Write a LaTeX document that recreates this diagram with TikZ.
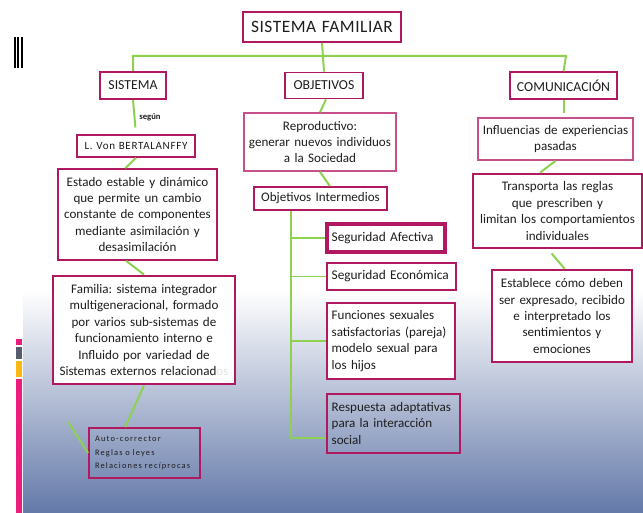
\documentclass[tikz,border=0pt]{standalone}
\usepackage{fontspec}
\setmainfont{Carlito}
\usepackage{xcolor}
\usepackage{tikz}

\definecolor{borde}{HTML}{B01860}
\definecolor{bordeclaro}{HTML}{C8508A}
\definecolor{verde}{HTML}{8CD250}
\definecolor{fondo}{HTML}{6479A9}
\definecolor{rosa}{HTML}{EC1C7C}
\definecolor{gris}{HTML}{545E6E}
\definecolor{naranja}{HTML}{FDB913}
\definecolor{tinta}{HTML}{1E1E1E}

\newcommand{\cuerpo}{\fontsize{9.8}{12.3}\selectfont}
\newcommand{\rotulo}{\fontsize{10.3}{12}\selectfont}
\frenchspacing

\begin{document}
\begin{tikzpicture}[x=0.75pt,y=-0.75pt,
    caja/.style={draw=borde, fill=white, line width=1.3pt, inner sep=3pt,
                 align=center, text=tinta, font=\cuerpo},
    izq/.style={caja, align=left, inner xsep=3.5pt},
    enlace/.style={draw=verde, line width=1.5pt}]
        \useasboundingbox (0,0) rectangle (643,513);
        \shade[top color=white, bottom color=fondo] (23,290) rectangle (643,513);

        \fill[black] (14,37) rectangle (15.5,68);
        \fill[black] (17.2,37) rectangle (19,68);
        \fill[black] (20.5,37) rectangle (22.5,68);
        \fill[rosa] (16,339) rectangle (22,345.5);
        \fill[gris] (16,346.7) rectangle (22,359);
        \fill[naranja] (16,360.7) rectangle (22,377.3);
        \fill[rosa] (16,379) rectangle (22,513);

        \node[caja, text width=112.5pt, minimum height=22.5pt, font=\fontsize{13}{15}\selectfont\addfontfeature{LetterSpace=3}] (familiar) at (322,27) {SISTEMA FAMILIAR};

        \node[caja, line width=1.6pt, text width=43.5pt, minimum height=20.25pt, font=\rotulo] (sistema) at (133,85.5) {SISTEMA};
        \node[caja, line width=1.2pt, text width=52.5pt, minimum height=19.5pt, font=\rotulo] (objetivos) at (324,85.5) {OBJETIVOS};
        \node[caja, line width=1.2pt, text width=74.25pt, minimum height=20.25pt, font=\rotulo] (comunicacion) at (563.5,85.5) {COMUNICACIÓN};

        \node[font=\bfseries\fontsize{6.5}{7}\selectfont, text=tinta] (segun) at (150,117) {según};
        \node[caja, text width=82.5pt, minimum height=16.5pt, font=\fontsize{8.3}{10}\selectfont\addfontfeature{LetterSpace=6}] (bertalanffy) at (136,146) {L. Von BERTALANFFY};
        \node[caja, line width=1.4pt, text width=113.25pt, minimum height=68.25pt] (estado) at (137.5,214.5)
            {Estado estable y dinámico\\que permite un cambio\\constante de componentes\\mediante asimilación y\\desasimilación};
        \node[caja, line width=2.2pt, text width=130.5pt, minimum height=81pt] (familia) at (144,330)
            {Familia: sistema integrador\\multigeneracional, formado\\por varios sub-sistemas de\\funcionamiento interno e\\Influido por variedad de\\Sistemas externos relacionad\textcolor{white!80!gray}{os}};
        \node[izq, fill=none, inner xsep=4.5pt, text width=74.25pt, minimum height=37.5pt, font=\fontsize{6.3}{10}\selectfont\addfontfeature{LetterSpace=14}] (auto) at (144.5,453)
            {Auto-corrector\\Reglas o leyes\\Relaciones recíprocas};

        \node[caja, draw=bordeclaro, line width=1.2pt, text width=108pt, minimum height=43.5pt] (reproductivo) at (320,142)
            {Reproductivo:\\generar nuevos individuos\\a la Sociedad};
        \node[caja, line width=1.4pt, text width=93.75pt, minimum height=17.25pt] (intermedios) at (320.5,198.5) {Objetivos Intermedios};
        \node[izq, line width=2.6pt, text width=81.5pt, minimum height=21pt, font=\fontsize{10}{12}\selectfont] (afectiva) at (386,238) {Seguridad Afectiva};
        \node[izq, line width=2pt, text width=89.75pt, minimum height=20.25pt, font=\fontsize{10}{12}\selectfont] (economica) at (391.5,276.5) {Seguridad Económica};
        \node[izq, line width=1.8pt, text width=89pt, minimum height=57pt] (funciones) at (391,341)
            {Funciones sexuales\\satisfactorias (pareja)\\modelo sexual para\\los hijos};
        \node[izq, fill=none, line width=1.5pt, text width=92.75pt, minimum height=44.25pt] (respuesta) at (393.5,423.5)
            {Respuesta adaptativas\\para la interacción\\social};

        \node[caja, draw=bordeclaro, text width=110.25pt, minimum height=31.5pt] (influencias) at (555.5,139)
            {Influencias de experiencias\\pasadas};
        \node[caja, line width=2.2pt, text width=120.75pt, minimum height=55.5pt] (transporta) at (557.5,211)
            {Transporta las reglas\\que prescriben y\\limitan los comportamientos\\individuales};
        \node[caja, line width=1.8pt, text width=99pt, minimum height=69pt] (establece) at (562,316)
            {Establece cómo deben\\ser expresado, recibido\\e interpretado los\\sentimientos y\\emociones};

        \coordinate (barra) at (566,56);
        \draw[enlace] (familiar.south) -- (objetivos.north);
        \draw[enlace] (sistema.north) |- (barra) -- (comunicacion.north);

        \draw[enlace, shorten >=5pt] (sistema.south) -- (bertalanffy.north);
        \draw[enlace] (bertalanffy.south) -- ([xshift=-9pt]estado.north);
        \draw[enlace] ([xshift=-8.5pt]estado.south) -- (familia.north);
        \draw[enlace] (familia.south) -- ([xshift=-14.5pt]auto.north);
        \coordinate (suelto) at (68,422);
        \draw[enlace] (suelto) -- (auto.west);

        \draw[enlace] ([xshift=1.5pt]objetivos.south) -- (reproductivo.north);
        \draw[enlace] (reproductivo.south) -- ([xshift=7pt]intermedios.north);
        \coordinate (tronco) at ([xshift=-22pt]intermedios.south);
        \draw[enlace, line width=1.2pt] (tronco) |- ([yshift=-11pt]respuesta.west);
        \foreach \rama in {afectiva,economica,funciones}
            \draw[enlace, line width=1.2pt] (tronco |- \rama.west) -- (\rama.west);

        \draw[enlace, shorten >=3pt] (comunicacion.south) -- ([xshift=6pt]influencias.north);
        \draw[enlace] (influencias.south) -- ([xshift=-13pt]transporta.north);
        \draw[enlace, shorten <=4pt] ([xshift=-7pt]transporta.south) -- ([xshift=2pt]establece.north);
    \end{tikzpicture}
\end{document}
